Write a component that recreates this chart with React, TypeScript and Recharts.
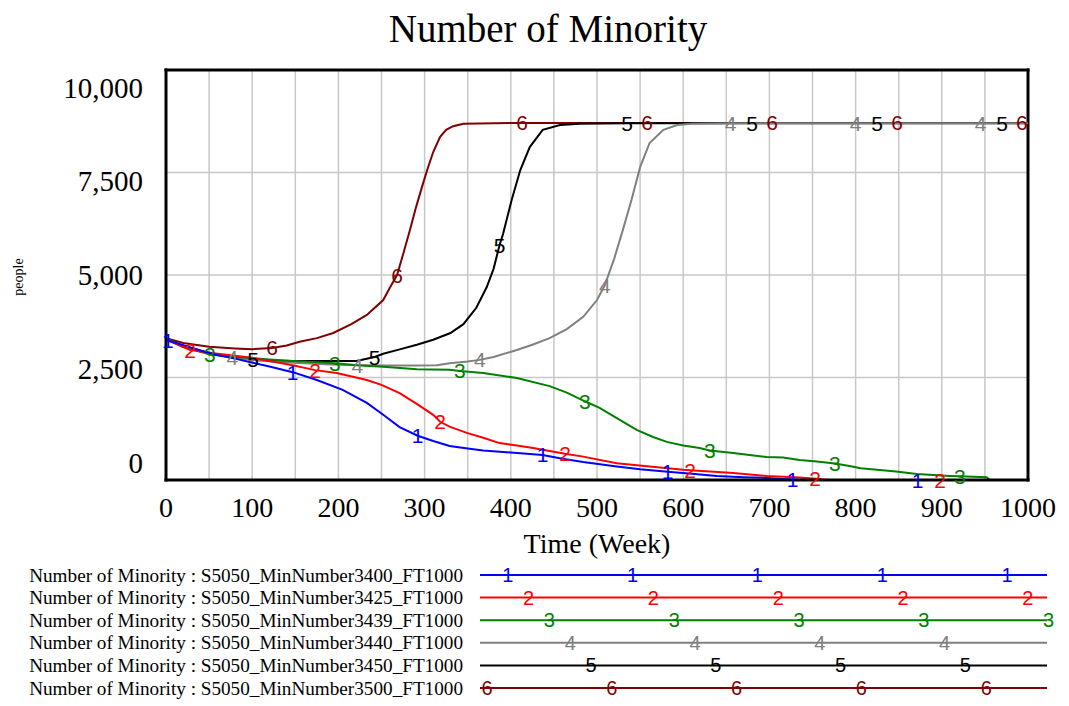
import React from 'react'
import { LineChart, Line, XAxis, YAxis, CartesianGrid, ReferenceLine } from 'recharts'

// Number of Minority, one array pair per run (time in weeks, people)
const TIME_1 = [0, 2, 20, 40, 59, 80, 97, 120, 147, 175, 205, 233, 252, 271, 292, 310, 329, 350, 368, 400, 437, 460, 484, 523, 550, 582, 610, 639, 670, 697, 720, 727, 740, 872, 1000]
const MINORITY_1 = [3420, 3400, 3290, 3160, 3050, 2960, 2880, 2770, 2630, 2440, 2200, 1880, 1590, 1290, 1080, 950, 830, 770, 720, 670, 610, 520, 440, 330, 260, 200, 150, 100, 70, 50, 20, 10, 0, 0, 0]
const MARKS_1 = [2, 147, 292, 437, 582, 727, 872]

const TIME_2 = [0, 28, 60, 97, 120, 147, 173, 198, 233, 250, 271, 290, 310, 318, 329, 349, 368, 387, 407, 426, 445, 463, 484, 523, 561, 600, 608, 658, 697, 735, 753, 770, 898, 1000]
const MINORITY_2 = [3425, 3170, 3080, 2990, 2900, 2800, 2680, 2610, 2440, 2320, 2120, 1870, 1590, 1420, 1300, 1150, 1030, 900, 840, 780, 710, 640, 570, 410, 330, 250, 240, 170, 100, 60, 30, 0, 0, 0]
const MARKS_2 = [28, 173, 318, 463, 608, 753, 898]

const TIME_3 = [0, 20, 51, 75, 97, 120, 147, 175, 196, 222, 252, 291, 329, 341, 368, 407, 445, 465, 486, 503, 523, 546, 565, 581, 600, 619, 631, 658, 677, 697, 716, 735, 755, 776, 793, 806, 847, 871, 909, 921, 952, 956, 1000]
const MINORITY_3 = [3440, 3250, 3060, 3010, 2975, 2940, 2900, 2870, 2850, 2800, 2760, 2700, 2690, 2660, 2610, 2490, 2290, 2130, 1920, 1760, 1510, 1220, 1050, 930, 840, 780, 720, 660, 610, 560, 550, 490, 450, 400, 340, 285, 205, 145, 100, 90, 70, 0, 0]
const MARKS_3 = [51, 196, 341, 486, 631, 776, 921]

const TIME_4 = [0, 20, 50, 77, 100, 130, 160, 190, 222, 260, 290, 314, 329, 350, 364, 380, 407, 425, 445, 465, 484, 500, 509, 520, 530, 540, 550, 561, 577, 593, 610, 655, 800, 945, 1000]
const MINORITY_4 = [3440, 3260, 3090, 2990, 2930, 2880, 2850, 2820, 2800, 2790, 2790, 2800, 2850, 2890, 2930, 3000, 3170, 3300, 3460, 3680, 3980, 4390, 4750, 5400, 6100, 6830, 7630, 8220, 8540, 8660, 8690, 8700, 8700, 8700, 8700]
const MARKS_4 = [77, 222, 364, 509, 655, 800, 945]

const TIME_5 = [0, 20, 50, 75, 101, 125, 147, 180, 221, 242, 252, 270, 291, 310, 330, 345, 360, 372, 380, 387, 391, 401, 411, 422, 437, 457, 480, 535, 680, 825, 970, 1000]
const MINORITY_5 = [3445, 3270, 3100, 3000, 2930, 2910, 2900, 2900, 2900, 3000, 3080, 3180, 3300, 3420, 3585, 3800, 4200, 4700, 5150, 5730, 6000, 6830, 7560, 8120, 8540, 8660, 8690, 8700, 8700, 8700, 8700, 8700]
const MARKS_5 = [101, 242, 387, 535, 680, 825, 970]

const TIME_6 = [0, 20, 50, 80, 100, 123, 140, 155, 175, 194, 215, 233, 252, 260, 268, 275, 283, 290, 297, 303, 310, 318, 325, 333, 345, 413, 558, 703, 848, 993, 1000]
const MINORITY_6 = [3460, 3340, 3250, 3210, 3190, 3220, 3280, 3370, 3460, 3585, 3800, 4025, 4390, 4700, 5000, 5500, 6100, 6650, 7150, 7560, 8000, 8370, 8540, 8630, 8690, 8710, 8710, 8710, 8710, 8710, 8710]
const MARKS_6 = [123, 268, 413, 558, 703, 848, 993]

const RUN_NAMES = [
  'S5050_MinNumber3400_FT1000',
  'S5050_MinNumber3425_FT1000',
  'S5050_MinNumber3439_FT1000',
  'S5050_MinNumber3440_FT1000',
  'S5050_MinNumber3450_FT1000',
  'S5050_MinNumber3500_FT1000',
]
const RUN_COLORS = ['#0000ff', '#ff0000', '#008000', '#808080', '#000000', '#800000']

const X_TICKS = [0, 100, 200, 300, 400, 500, 600, 700, 800, 900, 1000]
const Y_TICKS = [0, 2500, 5000, 7500, 10000]
const X_GRID = [50, 100, 150, 200, 250, 300, 350, 400, 450, 500, 550, 600, 650, 700, 750, 800, 850, 900, 950]
const Y_GRID = [2500, 5000, 7500]

const SERIF = '"Liberation Serif", "Times New Roman", serif'
const SANS = '"Liberation Sans", Arial, sans-serif'

const build = (t: number[], v: number[], marks: number[]) =>
  t.map((time, i) => ({ t: time, v: v[i], mark: marks.includes(time) }))

const runs = [
  build(TIME_1, MINORITY_1, MARKS_1),
  build(TIME_2, MINORITY_2, MARKS_2),
  build(TIME_3, MINORITY_3, MARKS_3),
  build(TIME_4, MINORITY_4, MARKS_4),
  build(TIME_5, MINORITY_5, MARKS_5),
  build(TIME_6, MINORITY_6, MARKS_6),
]

const markDot = (label: string, color: string) => (props: any) => {
  const { cx, cy, payload, index } = props
  if (!payload.mark) return <g key={index} />
  return (
    <text key={index} x={cx} y={cy} fill={color} fontSize={21} fontFamily={SANS}
      textAnchor="middle" dominantBaseline="central">{label}</text>
  )
}

const XTick = ({ x, y, payload }: any) => (
  <text x={x} y={y + 27} textAnchor="middle" dominantBaseline="central"
    fontSize={28} fontFamily={SERIF} fill="#000">{payload.value}</text>
)

const YTick = ({ x, y, payload }: any) => {
  // vensim spreads its labels a bit tighter than the grid
  const off = ((payload.value - 5000) / 5000) * 17.5
  return (
    <text x={x - 23} y={y + off} textAnchor="end" dominantBaseline="central"
      fontSize={29} fontFamily={SERIF} fill="#000">{payload.value.toLocaleString('en-US')}</text>
  )
}

const frame = { stroke: '#000', strokeWidth: 3, strokeLinecap: 'square' as const }

function LegendRows() {
  const rowY = (i: number) => 575 + i * 22.6
  return (
    <g>
      {RUN_NAMES.map((name, i) => {
        const marks: number[] = []
        for (let x = 487 + 20.8 * ((i + 1) % 6); x <= 1050; x += 124.8) marks.push(x)
        return (
          <g key={name}>
            <text x={463} y={rowY(i)} textAnchor="end" dominantBaseline="central"
              fontSize={19.2} fontFamily={SERIF} fill="#000">{`Number of Minority : ${name}`}</text>
            <line x1={480} x2={1047} y1={rowY(i)} y2={rowY(i)} stroke={RUN_COLORS[i]} strokeWidth={2} />
            {marks.map((mx) => (
              <text key={mx} x={mx} y={rowY(i)} textAnchor="middle" dominantBaseline="central"
                fontSize={20} fontFamily={SANS} fill={RUN_COLORS[i]}>{i + 1}</text>
            ))}
          </g>
        )
      })}
    </g>
  )
}

export default function App() {
  return (
    <div style={{ position: 'absolute', left: 0, top: 0, width: 1069, height: 706, background: '#fff' }}>
      <LineChart width={1069} height={706} margin={{ top: 70, right: 41, bottom: 196, left: 106 }}>
        <CartesianGrid stroke="#c8c8c8" strokeWidth={1.5} verticalValues={X_GRID} horizontalValues={Y_GRID} />
        <XAxis dataKey="t" type="number" domain={[0, 1000]} ticks={X_TICKS} height={30}
          tick={<XTick />} tickLine={false} tickSize={0} tickMargin={0} axisLine={frame} allowDuplicatedCategory={false} />
        <YAxis type="number" domain={[0, 10000]} ticks={Y_TICKS} width={60}
          tick={<YTick />} tickLine={false} tickSize={0} tickMargin={0} axisLine={frame} />
        <ReferenceLine y={10000} stroke="#000" strokeWidth={3} strokeLinecap="square" />
        <ReferenceLine x={1000} stroke="#000" strokeWidth={3} strokeLinecap="square" />
        {runs.map((data, i) => i).reverse().map((i) => (
          <Line key={RUN_NAMES[i]} data={runs[i]} dataKey="v" name={RUN_NAMES[i]} type="linear"
            stroke={RUN_COLORS[i]} strokeWidth={2} dot={markDot(String(i + 1), RUN_COLORS[i])}
            activeDot={false} isAnimationActive={false} />
        ))}
      </LineChart>
      <svg width={1069} height={706} style={{ position: 'absolute', left: 0, top: 0, pointerEvents: 'none' }}>
        <text x={548} y={28} textAnchor="middle" dominantBaseline="central" fontSize={39}
          fontFamily={SERIF} fill="#000">Number of Minority</text>
        <text x={597} y={543} textAnchor="middle" dominantBaseline="central" fontSize={28}
          fontFamily={SERIF} fill="#000">Time (Week)</text>
        <text x={18} y={277} textAnchor="middle" dominantBaseline="central" fontSize={14}
          fontFamily={SERIF} fill="#000" transform="rotate(-90 18 277)">people</text>
        <LegendRows />
      </svg>
    </div>
  )
}
